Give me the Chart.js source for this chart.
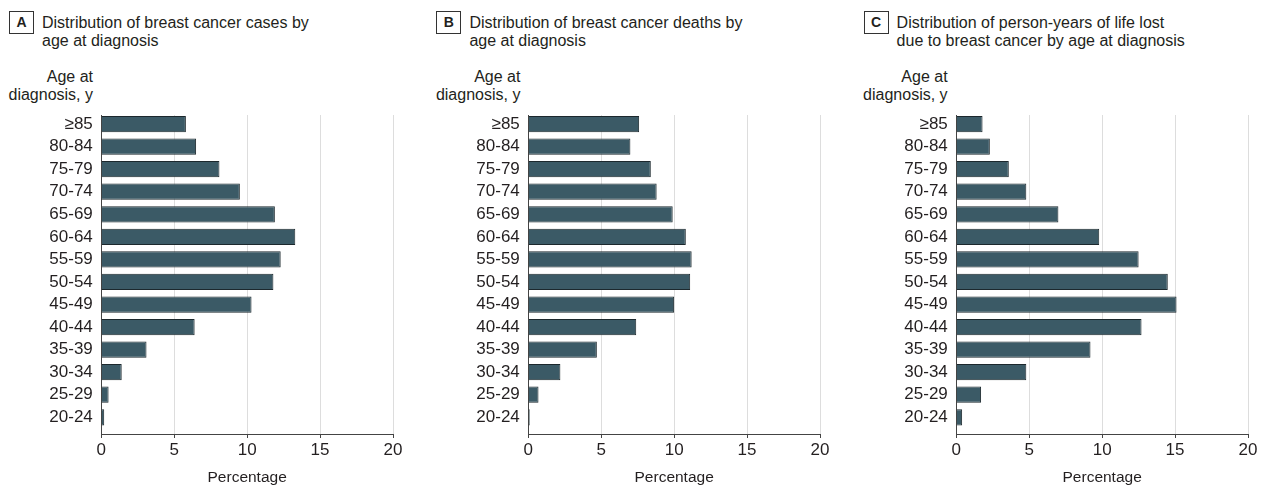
<!DOCTYPE html>
<html lang="en">
<head>
<meta charset="UTF-8">
<title>Breast cancer by age at diagnosis</title>
<script src="https://cdn.jsdelivr.net/npm/chart.js"></script>
<style>
  body {
    margin: 0;
    width: 1265px;
    height: 487px;
    overflow: hidden;
    background: #fff;
    font-family: "Liberation Sans", Arial, sans-serif;
    color: #231f20;
  }
  .panel { position: absolute; top: 0; width: 427px; height: 487px; }
  .panel canvas { position: absolute; left: 0; top: 0; }
  .tag {
    position: absolute; left: 9px; top: 11px;
    width: 23px; height: 21px;
    border: 1px solid #333;
    font-weight: bold; font-size: 14px; line-height: 21px; text-align: center;
  }
  .title { position: absolute; left: 42px; top: 14px; font-size: 16px; line-height: 18px; white-space: nowrap; }
  .ylab { position: absolute; left: 0; width: 93px; top: 68px; font-size: 16px; line-height: 18px; text-align: right; white-space: nowrap; }
</style>
</head>
<body>

<div class="panel" style="left:0px">
  <div class="tag">A</div>
  <div class="title">Distribution of breast cancer cases by<br>age at diagnosis</div>
  <div class="ylab">Age at<br>diagnosis, y</div>
  <canvas id="chartA" width="427" height="487"></canvas>
</div>
<div class="panel" style="left:427.4px">
  <div class="tag">B</div>
  <div class="title">Distribution of breast cancer deaths by<br>age at diagnosis</div>
  <div class="ylab">Age at<br>diagnosis, y</div>
  <canvas id="chartB" width="427" height="487"></canvas>
</div>
<div class="panel" style="left:854.6px">
  <div class="tag">C</div>
  <div class="title">Distribution of person-years of life lost<br>due to breast cancer by age at diagnosis</div>
  <div class="ylab">Age at<br>diagnosis, y</div>
  <canvas id="chartC" width="427" height="487"></canvas>
</div>

<script>
// age groups, top to bottom
const ages = ['≥85', '80-84', '75-79', '70-74', '65-69', '60-64', '55-59',
              '50-54', '45-49', '40-44', '35-39', '30-34', '25-29', '20-24'];

// percentages
const casesPct  = [5.8, 6.5, 8.1, 9.5, 11.9, 13.3, 12.3, 11.8, 10.3, 6.4, 3.1, 1.4, 0.5, 0.2];
const deathsPct = [7.6, 7.0, 8.4, 8.8, 9.9, 10.8, 11.2, 11.1, 10.0, 7.4, 4.7, 2.2, 0.7, 0.1];
const yllPct    = [1.8, 2.3, 3.6, 4.8, 7.0, 9.8, 12.5, 14.5, 15.1, 12.7, 9.2, 4.8, 1.7, 0.4];

const xTicks = [0, 5, 10, 15, 20];

Chart.defaults.font.family = '"Liberation Sans", Arial, sans-serif';
Chart.defaults.color = '#231f20';

function drawPanel(id, values) {
    var ctx = document.getElementById(id).getContext('2d');
    return new Chart(ctx, {
        type: 'bar',
        data: {
            datasets: [{
                data: values.map((v, i) => ({ x: v, y: i })),
                backgroundColor: '#3b5a66',
                borderColor: '#1c282d',
                borderWidth: 1,
                barPercentage: 0.9,
                categoryPercentage: 0.8
            }]
        },
        options: {
            indexAxis: 'y',
            responsive: false,
            animation: false,
            layout: { padding: { top: 115, right: 34, bottom: 0, left: 0 } },
            plugins: {
                legend: { display: false },
                tooltip: { enabled: false }
            },
            scales: {
                x: {
                    type: 'linear',
                    min: xTicks[0],
                    max: xTicks[xTicks.length - 1],
                    afterBuildTicks: s => { s.ticks = xTicks.map(v => ({ value: v })); },
                    afterFit: s => { s.height = 53; },
                    ticks: { padding: 2, font: { size: 17 } },
                    grid: { color: '#dddddd', tickColor: '#444', tickLength: 4 },
                    border: { color: '#444' },
                    title: { display: true, text: 'Percentage', padding: 0, font: { size: 15.5 } }
                },
                y: {
                    type: 'linear',
                    offset: false,
                    reverse: true,
                    min: -0.4,
                    max: 13.74,
                    afterBuildTicks: s => { s.ticks = ages.map((a, i) => ({ value: i })); },
                    afterFit: s => { s.width = 101.3; },
                    ticks: { autoSkip: false, padding: 8.5, font: { size: 17 }, callback: v => ages[v] },
                    grid: { display: false, drawTicks: false, offset: false },
                    border: { display: true, color: '#444' }
                }
            }
        }
    });
}

drawPanel('chartA', casesPct);
drawPanel('chartB', deathsPct);
drawPanel('chartC', yllPct);
</script>
</body>
</html>
